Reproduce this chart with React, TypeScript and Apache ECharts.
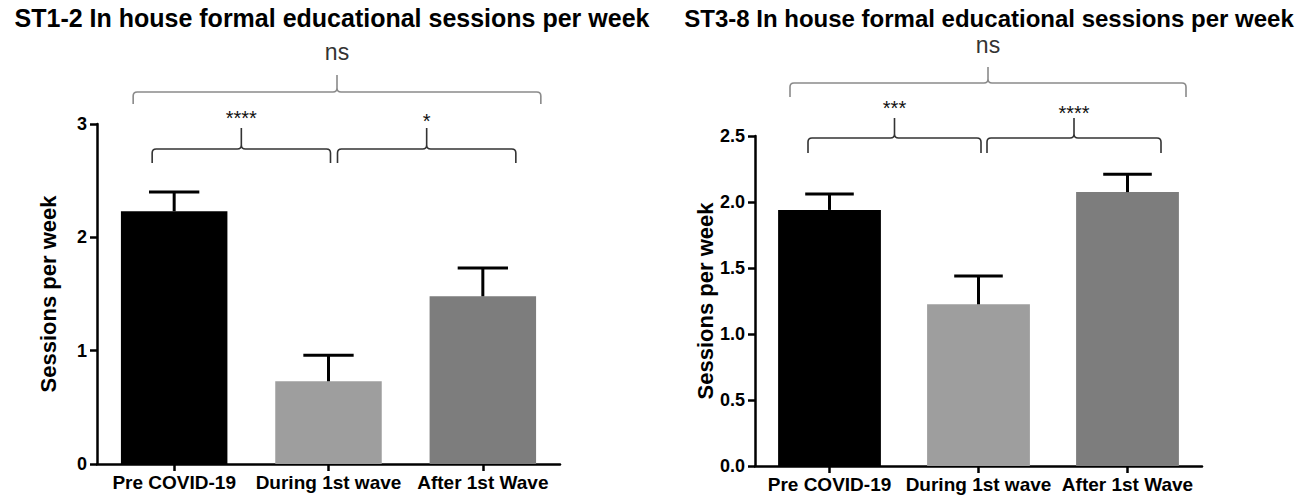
import React, { useEffect, useRef } from "react";
import * as echarts from "echarts";

// ---------- data ----------
const categories = ["Pre COVID-19", "During 1st wave", "After 1st Wave"];
const chartTitles = [
  "ST1-2 In house formal educational sessions per week",
  "ST3-8 In house formal educational sessions per week",
];
const yAxisName = "Sessions per week";

// ST1-2 means and upper error (mean + SEM)
const st12Means = [2.23, 0.73, 1.48];
const st12Upper = [2.4, 0.96, 1.73];
// ST3-8 means and upper error
const st38Means = [1.94, 1.225, 2.075];
const st38Upper = [2.06, 1.44, 2.21];

const st12Max = 3;
const st12Interval = 1;
const st38Max = 2.5;
const st38Interval = 0.5;

// significance comparisons: [fromCategory, toCategory]
const st12Pairs = [[0, 1], [1, 2], [0, 2]];
const st12Labels = ["****", "*", "ns"];
const st38Pairs = [[0, 1], [1, 2], [0, 2]];
const st38Labels = ["***", "****", "ns"];

// ---------- styles ----------
const barColors = ["#000000", "#9e9e9e", "#7d7d7d"];
const FONT = "'Liberation Sans', Arial, Helvetica, sans-serif";

// bracket layout (pixels): x offsets from category centres, y relative to grid top
const st12BracketLayout = [
  { dx1: -22, dx2: 2, lineY: 25, drop: 14, peak: 21, labelY: -11, color: "#333" },
  { dx1: 9, dx2: 33, lineY: 25, drop: 14, peak: 21, labelY: -8, color: "#333" },
  { dx1: -41, dx2: 58, lineY: -32, drop: 12, peak: 17, labelY: -72, color: "#8a8a8a" },
];
const st38BracketLayout = [
  { dx1: -21.5, dx2: 2.5, lineY: 2, drop: 15, peak: 20, labelY: -33, color: "#333" },
  { dx1: 8.5, dx2: 33.5, lineY: 2, drop: 15, peak: 20, labelY: -28, color: "#333" },
  { dx1: -39.5, dx2: 58.5, lineY: -53, drop: 14, peak: 16, labelY: -91, color: "#8a8a8a" },
];

function bracketPath(x1: number, x2: number, y: number, drop: number, peak: number) {
  const r = 4;
  const xm = (x1 + x2) / 2;
  return (
    `M${x1},${y + drop} L${x1},${y + r} Q${x1},${y} ${x1 + r},${y} ` +
    `L${xm - r},${y} Q${xm},${y} ${xm},${y - r} L${xm},${y - peak} ` +
    `M${xm},${y - r} Q${xm},${y} ${xm + r},${y} ` +
    `L${x2 - r},${y} Q${x2},${y} ${x2},${y + r} L${x2},${y + drop}`
  );
}

function makeBracketSeries(idx: number, pairs: number[][], labels: string[], layout: any[]) {
  return {
    type: "custom",
    xAxisIndex: idx,
    yAxisIndex: idx,
    clip: false,
    silent: true,
    z: 5,
    data: pairs.map((p) => [p[0], p[1]]),
    renderItem: (params: any, api: any) => {
      const i = params.dataIndex;
      const L = layout[i];
      const top = params.coordSys.y;
      const c1 = api.coord([api.value(0), 0])[0];
      const c2 = api.coord([api.value(1), 0])[0];
      const x1 = c1 + L.dx1;
      const x2 = c2 + L.dx2;
      const y = top + L.lineY;
      const xm = (x1 + x2) / 2;
      const isStar = labels[i] !== "ns";
      return {
        type: "group",
        children: [
          {
            type: "path",
            shape: { pathData: bracketPath(x1, x2, y, L.drop, L.peak) },
            style: { fill: "none", stroke: L.color, lineWidth: 1.6 },
          },
          {
            type: "text",
            x: xm,
            y: top + L.labelY + (isStar ? 5 : 0),
            style: {
              text: labels[i],
              align: "center",
              verticalAlign: "middle",
              fontFamily: FONT,
              fontSize: isStar ? 20 : 23,
              fill: isStar ? "#111" : "#333",
            },
          },
        ],
      };
    },
  };
}

function makeErrorSeries(idx: number, means: number[], upper: number[]) {
  return {
    type: "custom",
    xAxisIndex: idx,
    yAxisIndex: idx,
    silent: true,
    z: 4,
    data: means.map((m, i) => [i, m, upper[i]]),
    renderItem: (params: any, api: any) => {
      const base = api.coord([api.value(0), api.value(1)]);
      const top = api.coord([api.value(0), api.value(2)]);
      const band = api.size([1, 0])[0];
      const half = band * 0.163;
      const st = { stroke: "#000", lineWidth: 3 };
      return {
        type: "group",
        children: [
          { type: "line", shape: { x1: base[0], y1: base[1], x2: base[0], y2: top[1] }, style: st },
          { type: "line", shape: { x1: base[0] - half, y1: top[1], x2: base[0] + half, y2: top[1] }, style: st },
        ],
      };
    },
  };
}

function makeBarSeries(idx: number, means: number[]) {
  return {
    type: "bar",
    xAxisIndex: idx,
    yAxisIndex: idx,
    barWidth: "69%",
    silent: true,
    z: 3,
    data: means.map((v, i) => ({ value: v, itemStyle: { color: barColors[i] } })),
  };
}

const axisLineStyle = { color: "#000", width: 2.5 };

function makeXAxis(idx: number) {
  return {
    type: "category",
    gridIndex: idx,
    data: categories,
    axisLine: { show: true, lineStyle: axisLineStyle },
    axisTick: { show: true, alignWithLabel: true, length: 7, lineStyle: axisLineStyle },
    axisLabel: {
      color: "#000",
      fontWeight: "bold",
      fontSize: 19,
      fontFamily: FONT,
      margin: 9,
      interval: 0,
    },
    splitLine: { show: false },
  };
}

function makeYAxis(idx: number, max: number, interval: number, decimals: number, gap: number) {
  return {
    type: "value",
    gridIndex: idx,
    min: 0,
    max,
    interval,
    name: yAxisName,
    nameLocation: "middle",
    nameGap: gap,
    nameRotate: 90,
    nameTextStyle: { color: "#000", fontWeight: "bold", fontSize: 22, fontFamily: FONT },
    axisLine: { show: true, lineStyle: axisLineStyle },
    axisTick: { show: true, length: 7, lineStyle: axisLineStyle },
    axisLabel: {
      color: "#000",
      fontWeight: "bold",
      fontSize: 18,
      fontFamily: FONT,
      margin: 10,
      formatter: (v: number) => v.toFixed(decimals),
    },
    splitLine: { show: false },
  };
}

export default function App() {
  const ref = useRef<HTMLDivElement>(null);
  useEffect(() => {
    if (!ref.current) return;
    const chart = echarts.init(ref.current, undefined, { renderer: "svg" });
    chart.setOption({
      animation: false,
      backgroundColor: "#ffffff",
      title: [
        {
          text: chartTitles[0],
          left: 327,
          top: 0,
          textAlign: "center",
          textStyle: { color: "#000", fontWeight: "bold", fontSize: 25, fontFamily: FONT },
        },
        {
          text: chartTitles[1],
          left: 984,
          top: 1,
          textAlign: "center",
          textStyle: { color: "#000", fontWeight: "bold", fontSize: 24, fontFamily: FONT },
        },
      ],
      grid: [
        { left: 97, top: 124, width: 463, height: 340, containLabel: false, outerBoundsMode: "none" },
        { left: 755, top: 136, width: 447, height: 330, containLabel: false, outerBoundsMode: "none" },
      ],
      xAxis: [makeXAxis(0), makeXAxis(1)],
      yAxis: [
        makeYAxis(0, st12Max, st12Interval, 0, 38),
        makeYAxis(1, st38Max, st38Interval, 1, 35),
      ],
      series: [
        makeBarSeries(0, st12Means),
        makeErrorSeries(0, st12Means, st12Upper),
        makeBracketSeries(0, st12Pairs, st12Labels, st12BracketLayout),
        makeBarSeries(1, st38Means),
        makeErrorSeries(1, st38Means, st38Upper),
        makeBracketSeries(1, st38Pairs, st38Labels, st38BracketLayout),
      ],
    });
    return () => chart.dispose();
  }, []);
  return (
    <div
      ref={ref}
      style={{ position: "fixed", left: 0, top: 0, width: 1303, height: 496, background: "#fff" }}
    />
  );
}
